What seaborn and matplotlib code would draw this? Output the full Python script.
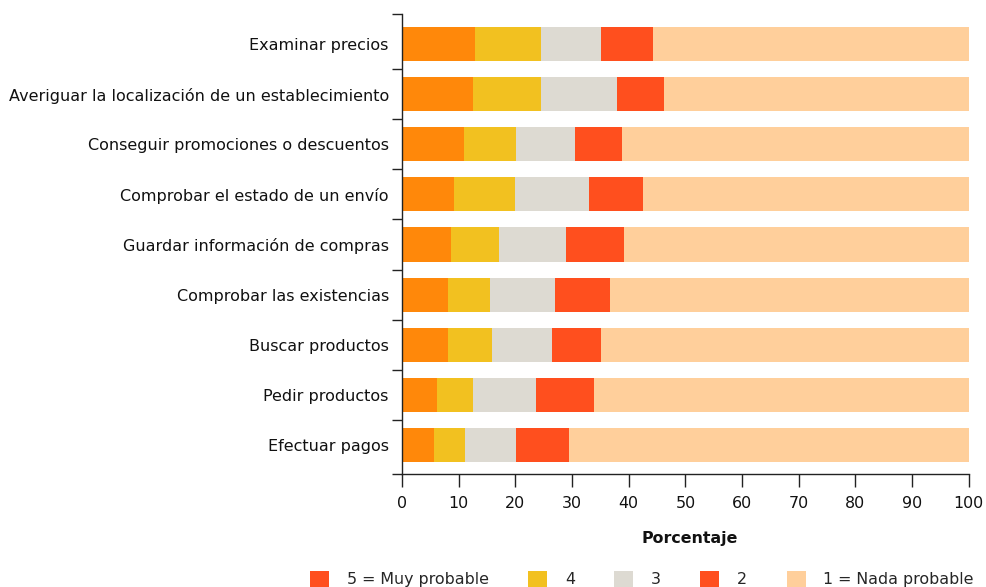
import numpy as np
import pandas as pd
import matplotlib
matplotlib.use("Agg")
import matplotlib.pyplot as plt
from matplotlib.patches import Patch
import seaborn as sns

# Actividades (de arriba abajo)
actividades = [
    "Examinar precios",
    "Averiguar la localización de un establecimiento",
    "Conseguir promociones o descuentos",
    "Comprobar el estado de un envío",
    "Guardar información de compras",
    "Comprobar las existencias",
    "Buscar productos",
    "Pedir productos",
    "Efectuar pagos",
]

# Porcentaje por nivel de probabilidad
muy_probable = [12.8, 12.5, 10.9, 9.1, 8.6, 8.1, 8.1, 6.1, 5.6]
nivel_4 = [11.7, 12.0, 9.3, 10.8, 8.6, 7.4, 7.7, 6.5, 5.6]
nivel_3 = [10.6, 13.4, 10.3, 13.1, 11.8, 11.5, 10.6, 11.1, 8.9]
nivel_2 = [9.2, 8.3, 8.3, 9.5, 10.1, 9.7, 8.8, 10.1, 9.4]
nada_probable = [55.7, 53.8, 61.2, 57.5, 60.9, 63.3, 64.8, 66.2, 70.5]

niveles = ["5 = Muy probable", "4", "3", "2", "1 = Nada probable"]
colores = ["#FF880A", "#F2C120", "#DDDAD2", "#FF4F1E", "#FFCF9B"]
colores_leyenda = ["#FF4F1E", "#F2C120", "#DDDAD2", "#FF4F1E", "#FFCF9B"]
ticks_x = list(range(0, 101, 10))

df = pd.DataFrame({
    "actividad": actividades,
    niveles[0]: muy_probable,
    niveles[1]: nivel_4,
    niveles[2]: nivel_3,
    niveles[3]: nivel_2,
    niveles[4]: nada_probable,
})

sns.set_theme(style="white")
plt.rcParams["font.family"] = ["DejaVu Sans"]
FS = 11.4

fig = plt.figure(figsize=(9.86, 5.87), dpi=100)
ax = fig.add_axes([402 / 986, 1 - 473.5 / 587, (968.7 - 402) / 986, (473.5 - 14) / 587])

# Stacked bars: cumulative totals drawn from the widest to the narrowest
acumulado = df[niveles].cumsum(axis=1)
for nivel, color in reversed(list(zip(niveles, colores))):
    sns.barplot(x=acumulado[nivel], y=df["actividad"], orient="h", color=color,
                saturation=1, width=0.68, ax=ax, linewidth=0)

ax.set_xlim(0, 100)
ylim_top, ylim_bottom = -0.6, 8.57
ax.set_ylim(ylim_bottom, ylim_top)

ax.set_xticks(ticks_x)
ax.set_xticklabels([str(t) for t in ticks_x], fontsize=FS, color="#111111")
ax.tick_params(axis="x", direction="out", length=9.5, width=1.0, color="#222222", pad=7, bottom=True)

ax.set_yticks(range(len(actividades)))
ax.set_yticklabels(actividades, fontsize=11.5, color="#111111")
ax.tick_params(axis="y", which="major", length=0, pad=9.5)
limites = [ylim_top] + [i + 0.5 for i in range(len(actividades) - 1)] + [ylim_bottom]
ax.set_yticks(limites, minor=True)
ax.tick_params(axis="y", which="minor", direction="out", length=7.2, width=1.0, color="#222222", left=True)

ax.set_ylabel("")
ax.set_xlabel("Porcentaje", fontsize=FS, fontweight="bold", color="#111111")
ax.xaxis.set_label_coords((690 - 402) / 566.7, -(539 - 473.5) / 459.5)
ax.xaxis.label.set_verticalalignment("center")

for lado in ["top", "right"]:
    ax.spines[lado].set_visible(False)
for lado in ["left", "bottom"]:
    ax.spines[lado].set_color("#222222")
    ax.spines[lado].set_linewidth(1.0)

handles = [Patch(facecolor=c, edgecolor="none") for c in colores_leyenda]
fig.legend(handles, niveles, loc="center", ncol=5, bbox_to_anchor=(642 / 986, 1 - 579 / 587),
           frameon=False, fontsize=FS, handlelength=1.2, handleheight=1.2,
           handletextpad=1.1, columnspacing=2.5, borderaxespad=0)

fig.savefig("out.png", dpi=100)
